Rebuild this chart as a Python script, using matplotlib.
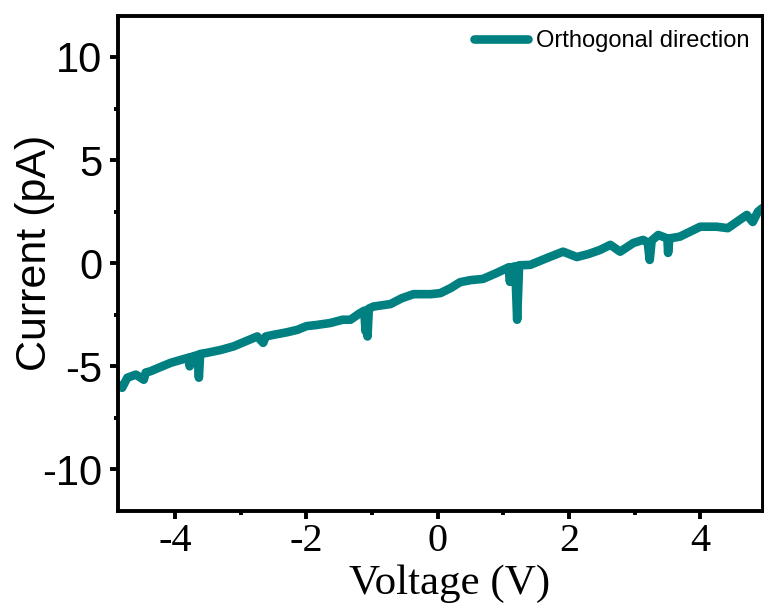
import matplotlib
matplotlib.use("Agg")
import matplotlib.pyplot as plt
from matplotlib.ticker import MultipleLocator

plt.rcParams["axes.unicode_minus"] = False

# I-V trace (spikes kept as separate points)
voltage = [-4.88, -4.81, -4.73, -4.6, -4.48, -4.45, -4.38, -4.2, -4.07, -3.8,
           -3.78, -3.76, -3.66, -3.64, -3.62, -3.51, -3.3, -3.11, -2.9, -2.75,
           -2.66, -2.62, -2.5, -2.3, -2.14, -2.0, -1.86, -1.64, -1.45, -1.33,
           -1.2, -1.12, -1.1, -1.08, -1.07, -1.05, -0.98, -0.72, -0.55, -0.37,
           -0.11, 0.04, 0.2, 0.34, 0.5, 0.69, 0.9, 1.08, 1.1, 1.12, 1.18,
           1.21, 1.24, 1.41, 1.67, 1.91, 2.12, 2.3, 2.47, 2.63, 2.78, 2.98,
           3.13, 3.2, 3.23, 3.26, 3.36, 3.5, 3.51, 3.53, 3.69, 4.0, 4.25,
           4.42, 4.6, 4.71, 4.8, 4.88, 4.95]
current = [-5.89, -6.04, -5.55, -5.4, -5.65, -5.3, -5.24, -5.0, -4.83, -4.58,
           -5.0, -4.55, -4.45, -5.55, -4.4, -4.34, -4.2, -4.03, -3.75, -3.55,
           -3.86, -3.55, -3.47, -3.35, -3.23, -3.05, -3.0, -2.9, -2.74, -2.74,
           -2.45, -2.3, -3.3, -2.3, -3.55, -2.2, -2.1, -1.98, -1.7, -1.5,
           -1.5, -1.45, -1.2, -0.92, -0.82, -0.76, -0.47, -0.2, -0.9, -0.2, -0.15,
           -2.74, -0.1, -0.08, 0.26, 0.56, 0.3, 0.45, 0.64, 0.89, 0.56, 0.98,
           1.13, 1.0, 0.16, 1.1, 1.37, 1.2, 0.5, 1.2, 1.29, 1.77, 1.77,
           1.7, 2.1, 2.34, 2.0, 2.5, 2.68]

line_color = "#008080"

fig = plt.figure(figsize=(7.64, 6.12), dpi=100)
ax = fig.add_axes([0.1538, 0.1655, 0.8452, 0.8088])

ax.plot(voltage, current, color=line_color, lw=6.2,
        solid_capstyle="round", solid_joinstyle="round",
        label="Orthogonal direction")

ax.set_xlim(-4.88, 4.96)
ax.set_ylim(-12, 12)

ax.xaxis.set_major_locator(MultipleLocator(2))
ax.xaxis.set_minor_locator(MultipleLocator(1))
ax.yaxis.set_major_locator(MultipleLocator(5))
ax.yaxis.set_minor_locator(MultipleLocator(2.5))

ax.tick_params(which="major", direction="out", length=6, width=2.8)
ax.tick_params(which="minor", direction="out", length=3, width=2.8)
ax.tick_params(axis="x", which="both", top=False, pad=3)
ax.tick_params(axis="y", which="both", right=False, pad=5)

for s in ax.spines.values():
    s.set_linewidth(2.8)

for lab in ax.get_xticklabels():
    lab.set_fontfamily("Liberation Serif")
    lab.set_fontsize(29)
for lab in ax.get_yticklabels():
    lab.set_fontfamily("Liberation Sans")
    lab.set_fontsize(30)

ax.set_xlabel("Voltage (V)", fontfamily="Liberation Serif", fontsize=31)
ax.xaxis.set_label_coords(0.515, -0.108, transform=ax.transAxes)
ax.xaxis.label.set_va("top")
ax.set_ylabel("Current (pA)", fontfamily="Liberation Sans", fontsize=31)
ax.yaxis.set_label_coords(-0.097, 0.52)

ax.legend(loc="upper right", frameon=False, handlelength=2.3, handletextpad=0.3,
          prop={"family": "Liberation Sans", "size": 17},
          borderaxespad=0.2)

fig.savefig("out.png", dpi=100)
